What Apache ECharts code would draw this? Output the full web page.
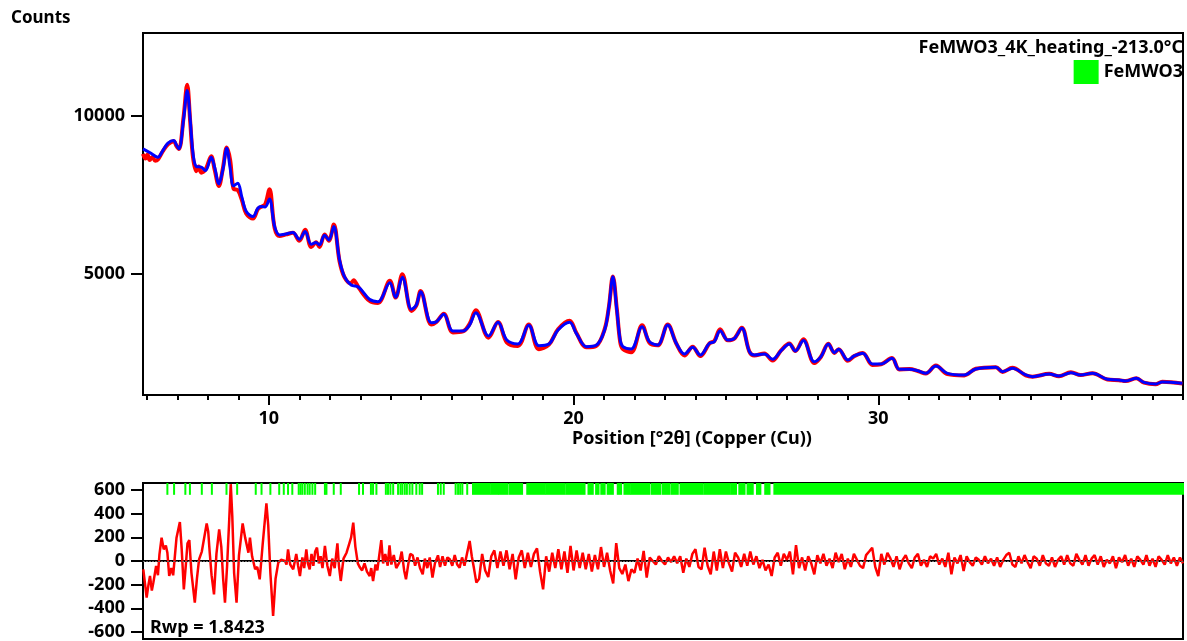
<!DOCTYPE html>
<html lang="en">
<head>
<meta charset="UTF-8">
<title>FeMWO3 refinement</title>
<style>
    html, body { margin: 0; padding: 0; background: #fff; }
    #main { width: 1187px; height: 641px; }
</style>
</head>
<body>
<div id="main"></div>
<script src="https://cdn.jsdelivr.net/npm/echarts@6/dist/echarts.min.js"></script>
<script>
    // calculated profile (blue line), [2theta, counts]
    const calcProfile = [
        [5.87,8956],[6.09,8840],[6.36,8693],[6.52,8903],[6.69,9136],[6.88,9218],[6.96,9090],[7.05,8956],
        [7.20,9873],[7.32,10800],[7.42,9873],[7.51,8820],[7.62,8396],[7.78,8376],[7.92,8270],[8.11,8693],
        [8.22,8376],[8.36,7848],[8.49,8291],[8.62,8977],[8.73,8344],[8.84,7785],[8.98,7870],[9.11,7446],
        [9.26,6971],[9.48,6813],[9.64,7078],[9.75,7130],[9.88,7120],[10.02,7373],[10.19,6497],[10.35,6234],
        [10.57,6265],[10.79,6307],[11.00,6097],[11.19,6338],[11.39,5939],[11.55,5990],[11.66,5917],[11.83,6224],
        [11.97,6076],[12.13,6497],[12.32,5442],[12.48,4914],[12.70,4651],[12.95,4578],[13.30,4200],[13.58,4123],
        [13.97,4724],[14.16,4262],[14.38,4895],[14.68,3882],[14.84,4018],[14.98,4439],[15.33,3458],[15.50,3490],
        [15.74,3724],[16.04,3195],[16.37,3195],[16.59,3385],[16.79,3774],[17.21,3037],[17.52,3470],[17.81,2910],
        [18.17,2784],[18.53,3376],[18.86,2731],[19.19,2784],[19.49,3227],[19.87,3470],[20.09,3122],[20.42,2700],
        [20.74,2742],[21.02,3227],[21.16,3965],[21.29,4914],[21.42,3860],[21.53,2910],[21.62,2700],[21.89,2626],
        [22.25,3332],[22.49,2858],[22.76,2753],[23.09,3385],[23.37,2806],[23.64,2468],[23.91,2679],[24.16,2436],
        [24.46,2806],[24.62,2858],[24.81,3206],[25.06,2910],[25.28,2964],[25.52,3280],[25.77,2541],[25.93,2436],
        [26.26,2468],[26.53,2300],[26.81,2573],[27.08,2784],[27.28,2563],[27.54,2890],[27.90,2224],[28.12,2382],
        [28.36,2784],[28.56,2510],[28.70,2616],[29.00,2277],[29.21,2404],[29.49,2489],[29.81,2151],[30.09,2151],
        [30.45,2330],[30.69,1983],[31.02,1983],[31.32,1930],[31.56,1856],[31.89,2087],[32.27,1856],[32.82,1803],
        [33.20,1993],[33.86,2046],[34.08,1909],[34.40,2015],[34.84,1803],[35.06,1751],[35.61,1835],[35.93,1771],
        [36.32,1877],[36.64,1803],[37.03,1856],[37.52,1666],[37.90,1645],[38.12,1613],[38.47,1698],[38.72,1571],
        [39.10,1518],[39.32,1582],[39.98,1540]
    ];

    // observed profile (red line), [2theta, counts]
    const obsProfile = [
        [5.87,8800],[5.95,8650],[6.02,8780],[6.09,8600],[6.18,8700],[6.27,8580],[6.36,8620],[6.52,8880],
        [6.69,9100],[6.88,9200],[6.96,9060],[7.05,8950],[7.20,9950],[7.32,10980],[7.42,9800],[7.51,8700],
        [7.62,8250],[7.70,8400],[7.78,8200],[7.92,8300],[8.11,8720],[8.22,8300],[8.36,7780],[8.49,8330],
        [8.62,9000],[8.73,8600],[8.84,7700],[8.98,7650],[9.11,7350],[9.26,6900],[9.48,6750],[9.64,7050],
        [9.75,7120],[9.88,7200],[10.02,7680],[10.19,6450],[10.35,6200],[10.57,6250],[10.79,6300],[11.00,6050],
        [11.19,6400],[11.39,5850],[11.55,6000],[11.66,5850],[11.83,6250],[11.97,6050],[12.13,6560],[12.32,5400],
        [12.48,4900],[12.70,4700],[12.78,4800],[12.95,4560],[13.30,4150],[13.58,4080],[13.97,4780],[14.16,4250],
        [14.38,4990],[14.68,3830],[14.84,4000],[14.98,4460],[15.33,3400],[15.50,3480],[15.74,3740],[16.04,3150],
        [16.37,3180],[16.59,3420],[16.79,3850],[17.21,2980],[17.52,3480],[17.81,2830],[18.17,2720],[18.53,3400],
        [18.86,2620],[19.19,2760],[19.49,3250],[19.87,3520],[20.09,3140],[20.42,2680],[20.74,2720],[21.02,3250],
        [21.16,3960],[21.29,4920],[21.42,3880],[21.53,2850],[21.62,2620],[21.89,2520],[22.25,3380],[22.49,2820],
        [22.76,2740],[23.09,3400],[23.37,2800],[23.64,2420],[23.91,2700],[24.16,2400],[24.46,2800],[24.62,2880],
        [24.81,3250],[25.06,2900],[25.28,2960],[25.52,3300],[25.77,2540],[25.93,2420],[26.26,2480],[26.53,2260],
        [26.81,2580],[27.08,2800],[27.28,2560],[27.54,2930],[27.90,2180],[28.12,2380],[28.36,2790],[28.56,2500],
        [28.70,2620],[29.00,2250],[29.21,2400],[29.49,2500],[29.81,2120],[30.09,2140],[30.45,2340],[30.69,1980],
        [31.02,1990],[31.32,1920],[31.56,1850],[31.89,2100],[32.27,1830],[32.82,1790],[33.20,2000],[33.86,2050],
        [34.08,1900],[34.40,2030],[34.84,1790],[35.06,1750],[35.61,1840],[35.93,1760],[36.32,1890],[36.64,1800],
        [37.03,1860],[37.52,1660],[37.90,1640],[38.12,1610],[38.47,1700],[38.72,1560],[39.10,1510],[39.32,1590],
        [39.98,1530]
    ];

    // difference curve, low angle part read point by point
    const diffEarly = [
        [5.88,-70],[5.99,-310],[6.05,-200],[6.10,-127],[6.16,-250],[6.21,-183],[6.30,-42],[6.36,-120],
        [6.41,56],[6.48,197],[6.55,99],[6.62,130],[6.67,70],[6.73,-127],[6.80,-60],[6.86,-121],[6.97,197],
        [7.08,330],[7.14,100],[7.21,-240],[7.28,-20],[7.33,150],[7.39,177],[7.46,-100],[7.57,-352],[7.64,-150],
        [7.71,14],[7.80,80],[7.96,318],[8.01,250],[8.06,70],[8.12,-120],[8.20,-282],[8.28,60],[8.37,268],
        [8.44,120],[8.50,-150],[8.56,-352],[8.63,-40],[8.70,350],[8.75,650],[8.80,380],[8.86,-100],[8.94,-352],
        [9.02,50],[9.14,318],[9.22,200],[9.33,70],[9.38,197],[9.45,40],[9.55,-70],[9.62,-50],[9.70,-155],
        [9.80,150],[9.92,487],[9.98,300],[10.05,-100],[10.14,-465],[10.22,-150],[10.31,-14],[10.40,10],
        [10.53,0],[10.58,-30],[10.63,99],[10.70,-30],[10.80,-70],[10.90,60],[10.96,-40],[11.02,-127],[11.10,30],
        [11.16,-60],[11.23,99],[11.28,-20],[11.34,-70],[11.40,60],[11.46,-40],[11.52,80],[11.58,113],[11.64,-20],
        [11.70,40],[11.76,-60],[11.84,127],[11.92,-40],[12.00,-127],[12.08,20],[12.16,-60],[12.25,149],[12.30,-40],
        [12.36,-169],[12.45,20],[12.55,70],[12.62,130],[12.70,200],[12.77,324],[12.84,120],[12.92,-20],[12.99,-56],
        [13.06,-80],[13.14,-20],[13.22,-90],[13.31,-127],[13.36,-60],[13.42,-169],[13.50,-30],[13.56,-80],
        [13.62,40],[13.69,177],[13.75,-20],[13.82,60],[13.90,-40],[13.96,132],[14.02,-30],[14.10,50],[14.18,-60],
        [14.28,-14],[14.36,80],[14.44,-80],[14.50,-155],[14.58,-20],[14.64,60],[14.72,48],[14.80,-40],[14.88,30],
        [14.96,-60],[15.05,-113],[15.12,20],[15.20,-60],[15.28,30],[15.37,-141],[15.45,-20],[15.55,48],[15.62,-50],
        [15.70,40],[15.78,-40],[15.86,30],[15.94,14],[16.02,-40],[16.10,50],[16.18,-30],[16.26,-56],[16.34,30],
        [16.42,-40],[16.50,60],[16.59,169],[16.66,40],[16.73,-60],[16.81,-183]
    ];

    // difference curve from 16.9 deg on, one value every 0.1 deg (one row per degree)
    const diffLateStart = 16.9;
    const diffLateStep = 0.1;
    const diffLate = [
        -150, 60, -80, -135, 40, 90, -60, 80, -40, 90,
        -70, 60, -155, 30, 90, -60, 70, -50, 60, 107,
        -90, -240, 40, -90, 70, -60, 100, -70, 80, -100,
        127, -80, 90, -60, 70, -70, 60, -90, 50, -70,
        118, -50, 70, -80, -190, 152, -60, -110, -30, -170,
        -70, -100, 20, -80, 85, -140, 30, 0, -30, 40,
        0, -30, 30, -10, 40, -20, 40, -100, 20, -50,
        60, 99, -50, -70, 113, -40, -113, 80, -80, 100,
        -60, 80, -20, -90, 70, 30, -50, 60, -40, 80,
        -30, 40, -60, 10, -80, -30, -127, 30, 70, -40,
        60, 10, 80, -113, 135, -60, 30, -80, 40, -20,
        -113, 50, -20, 60, -40, 20, -60, 70, -10, 60,
        -70, 20, -50, 60, 10, -40, -60, 50, 80, 113,
        -50, -127, 60, -30, 70, 20, -50, 40, -70, 10,
        50, -20, -60, 30, 60, -40, 10, -50, 40, 20,
        60, -30, 20, -50, 70, -113, 30, -20, 50, -85,
        40, -10, -40, 30, 10, -30, 40, -20, 20, -40,
        30, -50, 10, 50, 70, -30, -50, 40, -20, 50,
        -10, -60, 40, 20, -40, 50, -20, -40, 30, -50,
        10, 40, -30, 50, -20, -40, 60, 10, -30, 50,
        -40, 20, 50, -30, 40, -50, 10, -20, 40, -60,
        30, -10, 50, -40, 20, -50, 40, 10, -30, 50,
        -40, 20, -50, 40, 10, -30, 50, -20, 30, -40,
        30, -20
    ];

    // FeMWO3 reflection marks: single lines and merged runs [from, to]
    const reflSingle = [
        6.67,6.89,7.26,7.41,7.80,8.13,8.61,8.96,9.57,9.76,10.05,10.34,10.49,10.63,10.77,10.98,11.04,11.10,
        11.18,11.27,11.34,11.43,11.52,11.84,11.89,12.13,12.36,12.96,13.09,13.35,13.42,13.53,13.84,13.91,13.99,
        14.08,14.24,14.32,14.38,14.46,14.53,14.62,14.71,14.84,14.95,15.03,15.55,15.64,15.74,16.13,16.21,16.28,
        16.35,16.51
    ];
    const reflBlocks = [
        [16.70,17.25],[17.30,17.52],[17.57,17.83],[17.90,18.31],[18.48,19.05],[19.10,19.70],[19.76,20.36],
        [20.49,20.63],[20.74,20.82],[20.91,21.02],[21.12,21.29],[21.45,21.56],[21.67,21.84],[21.89,22.49],
        [22.57,22.85],[22.93,23.15],[23.22,23.42],[23.51,24.24],[24.30,25.11],[25.17,25.33],[25.44,25.61],
        [25.71,25.88],[26.02,26.13],[26.29,26.43],[26.59,40.0]
    ];

    const xMajorTicks = [10, 20, 30];
    const xMinorTicks = [6,7,8,9,10,11,12,13,14,15,16,17,18,19,20,21,22,23,24,25,26,27,28,29,30,
        31,32,33,34,35,36,37,38,39,40];
    const mainYTicks = [5000, 10000];
    const diffYTicks = [-600, -400, -200, 0, 200, 400, 600];

    const X_MIN = 5.87, X_MAX = 40.0;
    const Y_MIN = 1170, Y_MAX = 12620;
    const D_MIN = -660, D_MAX = 660;

    const FONT = 'Noto Sans';
    const labelStyle = { color: '#000', fontFamily: FONT, fontWeight: 'bold', fontSize: 18 };
    const plain = function (v) { return String(v); };

    const diffData = diffEarly.concat(diffLate.map(function (v, i) {
        return [+(diffLateStart + i * diffLateStep).toFixed(2), v];
    }));
    const reflData = reflSingle.map(function (x) { return [x, x]; }).concat(reflBlocks);

    const dom = document.getElementById('main');
    const myChart = echarts.init(dom, null, { renderer: 'canvas' });

    function renderRefl(params, api) {
        const a = api.coord([api.value(0), D_MAX]);
        const b = api.coord([api.value(1), D_MAX - 100]);
        return {
            type: 'rect',
            shape: { x: a[0] - 1, y: a[1], width: Math.max(b[0] - a[0], 0) + 2, height: b[1] - a[1] },
            style: { fill: '#00ff00' }
        };
    }

    const option = {
        animation: false,
        backgroundColor: '#fff',
        title: {
            text: 'FeMWO3_4K_heating_-213.0°C',
            right: 4, top: 39, padding: 0,
            textStyle: labelStyle
        },
        legend: {
            data: [{ name: 'FeMWO3', icon: 'rect' }],
            right: 4, top: 60, padding: 0,
            itemWidth: 25, itemHeight: 24,
            textStyle: labelStyle
        },
        grid: [
            { left: 143, top: 33, width: 1040, height: 362, show: true, borderColor: '#000', borderWidth: 2 },
            { left: 143, top: 483, width: 1040, height: 156, show: true, borderColor: '#000', borderWidth: 2 }
        ],
        xAxis: [
            {
                type: 'value', gridIndex: 0, min: X_MIN, max: X_MAX,
                axisLine: { lineStyle: { color: '#000', width: 2 } },
                axisTick: { customValues: xMinorTicks, length: 5, lineStyle: { color: '#000', width: 2 } },
                axisLabel: { show: false },
                splitLine: { show: false }
            },
            {
                type: 'value', gridIndex: 0, min: X_MIN, max: X_MAX, position: 'bottom',
                axisLine: { show: false },
                axisTick: { customValues: xMajorTicks, length: 10, lineStyle: { color: '#000', width: 2 } },
                axisLabel: Object.assign({ customValues: xMajorTicks, margin: 15, formatter: plain }, labelStyle),
                splitLine: { show: false }
            },
            {
                type: 'value', gridIndex: 1, min: X_MIN, max: X_MAX,
                axisLine: { lineStyle: { color: '#000', width: 2 } },
                axisTick: { show: false },
                axisLabel: { show: false },
                splitLine: { show: false }
            }
        ],
        yAxis: [
            {
                type: 'value', gridIndex: 0, min: Y_MIN, max: Y_MAX,
                axisLine: { show: true, lineStyle: { color: '#000', width: 2 } },
                axisTick: { show: true, customValues: mainYTicks, length: 12, lineStyle: { color: '#000', width: 2 } },
                axisLabel: Object.assign({ customValues: mainYTicks, margin: 18, formatter: plain }, labelStyle),
                splitLine: { show: false }
            },
            {
                type: 'value', gridIndex: 1, min: D_MIN, max: D_MAX,
                axisLine: { show: true, lineStyle: { color: '#000', width: 2 } },
                axisTick: { show: true, customValues: diffYTicks, length: 12, lineStyle: { color: '#000', width: 2 } },
                axisLabel: Object.assign({ customValues: diffYTicks, margin: 18, formatter: plain }, labelStyle),
                splitLine: { show: false }
            }
        ],
        graphic: [
            { type: 'text', left: 11, top: 10, style: { text: 'Counts', fill: '#000', font: 'bold 17px "' + FONT + '"' } },
            { type: 'text', x: 692, y: 439, style: { text: 'Position [°2θ] (Copper (Cu))', fill: '#000',
                font: 'bold 18px "' + FONT + '"', textAlign: 'center', textVerticalAlign: 'middle' } },
            { type: 'text', x: 150, y: 628, style: { text: 'Rwp = 1.8423', fill: '#000',
                font: 'bold 18px "' + FONT + '"', textAlign: 'left', textVerticalAlign: 'middle' } }
        ],
        series: [
            {
                name: 'Observed', type: 'line', xAxisIndex: 0, yAxisIndex: 0,
                data: obsProfile, showSymbol: false, smooth: 0.35, z: 2,
                lineStyle: { color: '#ff0000', width: 4 }
            },
            {
                name: 'Calculated', type: 'line', xAxisIndex: 0, yAxisIndex: 0,
                data: calcProfile, showSymbol: false, smooth: 0.35, z: 3,
                lineStyle: { color: '#0000ff', width: 3 }
            },
            {
                name: 'FeMWO3', type: 'custom', xAxisIndex: 2, yAxisIndex: 1,
                data: reflData, encode: { x: [0, 1] }, renderItem: renderRefl, z: 1,
                itemStyle: { color: '#00ff00' },
                markLine: {
                    silent: true, symbol: 'none', label: { show: false },
                    lineStyle: { color: '#666', width: 1, type: [2, 1] },
                    data: [{ yAxis: 0 }]
                }
            },
            {
                name: 'Difference', type: 'line', xAxisIndex: 2, yAxisIndex: 1,
                data: diffData, showSymbol: false, z: 3,
                lineStyle: { color: '#ff0000', width: 2.5 }
            }
        ]
    };

    myChart.setOption(option);
</script>
</body>
</html>
